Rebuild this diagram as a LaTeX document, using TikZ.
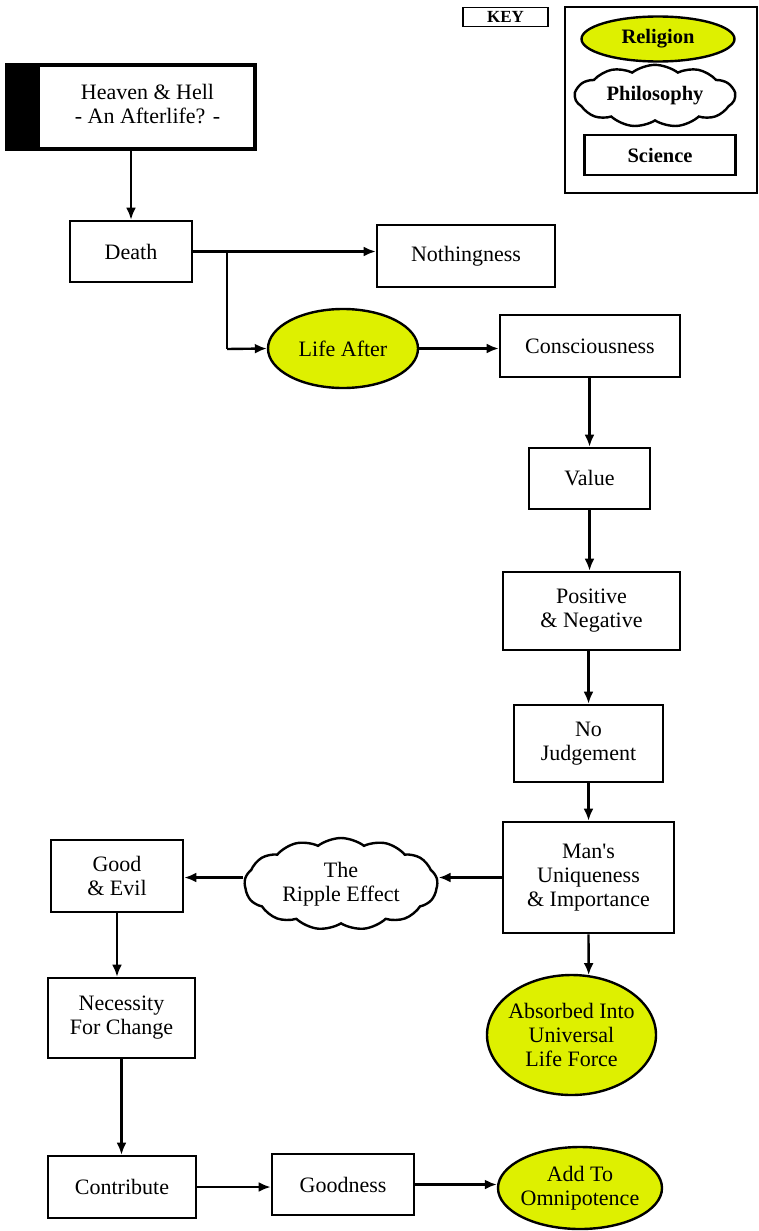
\documentclass[tikz,border=0pt]{standalone}
\usepackage{fontspec}
\setmainfont{Liberation Serif}
\usetikzlibrary{shapes.geometric,shapes.symbols,arrows.meta}
\definecolor{relyel}{RGB}{222,240,0}
\tikzset{
  box/.style={draw,line width=2.6pt,rectangle,inner sep=2pt,align=center,font=\fontsize{22}{24}\selectfont},
  rel/.style={draw,line width=2.4pt,ellipse,fill=relyel,inner sep=0pt,align=center,font=\fontsize{22}{24}\selectfont},
  phil/.style={draw,line width=2.4pt,cloud,cloud puffs=13,cloud puff arc=75,aspect=2.2,inner sep=0pt,align=center,font=\fontsize{22}{24}\selectfont},
  conn/.style={line width=2.4pt,-{Latex[length=12pt,width=10pt]}},
  keyfont/.style={font=\fontsize{20.5}{22}\selectfont\bfseries}
}
\begin{document}
\begin{tikzpicture}[x=1pt,y=-1pt]
\useasboundingbox (0,0) rectangle (758,1231);
% key
\node[draw,line width=1.4pt,minimum width=85pt,minimum height=19pt,inner sep=0pt,font=\fontsize{17}{18}\selectfont\bfseries] (keylbl) at (505.5,17) {KEY};
\node[draw,line width=1.4pt,minimum width=192pt,minimum height=186pt] (keybox) at (661,100) {};
\node[rel,minimum width=153pt,minimum height=45pt,inner sep=-4pt,keyfont] (krel) at (658,39) {Religion};
\node[phil,cloud puffs=11,minimum width=160pt,minimum height=46pt,inner sep=-7pt,keyfont] (kphil) at (655,96) {Philosophy};
\node[box,minimum width=151pt,minimum height=40pt,keyfont] (ksci) at (660,155) {Science};
% main
\node[box,line width=4pt,minimum width=248pt,minimum height=84pt,
  path picture={\fill (path picture bounding box.north west) rectangle ([xshift=33pt]path picture bounding box.south west);}]
  (heaven) at (131,107) {\hspace*{33pt}\begin{tabular}{@{}c@{}}Heaven \& Hell\\- An Afterlife? -\end{tabular}};
\node[box,minimum width=122pt,minimum height=61pt] (death) at (131,251.5) {Death};
\node[box,minimum width=178pt,minimum height=62pt] (noth) at (466,256) {Nothingness};
\node[rel,minimum width=150pt,minimum height=79pt] (life) at (343,348.5) {Life After};
\node[box,minimum width=180pt,minimum height=62pt] (cons) at (590,346) {Consciousness};
\node[box,minimum width=121pt,minimum height=61pt] (value) at (589.5,478.5) {Value};
\node[box,minimum width=177pt,minimum height=78pt] (posneg) at (591.5,611) {Positive\\\& Negative};
\node[box,minimum width=149pt,minimum height=77pt] (nojudge) at (588.5,743.5) {No\\Judgement};
\node[box,minimum width=171pt,minimum height=111pt] (mans) at (588.5,877.5) {Man\textquotesingle s\\Uniqueness\\\& Importance};
\node[phil,minimum width=193pt,minimum height=92pt,inner sep=-4pt] (ripple) at (341,884) {The\\Ripple Effect};
\node[box,minimum width=132pt,minimum height=72pt] (goodevil) at (117,876) {Good\\\& Evil};
\node[rel,minimum width=169pt,minimum height=120pt,inner sep=-8pt] (absorb) at (571.5,1035) {Absorbed Into\\Universal\\Life Force};
\node[rel,minimum width=164pt,minimum height=82pt,inner sep=-8pt] (addto) at (580,1188) {Add To\\Omnipotence};
\node[box,minimum width=147pt,minimum height=80pt] (neces) at (121.5,1018) {Necessity\\For Change};
\node[box,minimum width=148pt,minimum height=62pt] (contrib) at (122,1187) {Contribute};
\node[box,minimum width=142pt,minimum height=61pt] (goodness) at (343,1184.5) {Goodness};
% connectors
\draw[conn] (heaven.south -| death.north) -- (death.north);
\draw[conn] (death.east) -- (death.east -| noth.west);
\coordinate (br) at (227,252);
\coordinate (bend) at (227,349);
\draw[line width=2.4pt] (br) -- (bend);
\draw[conn] (bend) -- (life.west);
\draw[conn] (life.east) -- (life.east -| cons.west);
\draw[conn] (value.north |- cons.south) -- (value.north);
\draw[conn] (value.south) -- (value.south |- posneg.north);
\draw[conn] (nojudge.north |- posneg.south) -- (nojudge.north);
\draw[conn] (nojudge.south) -- (nojudge.south |- mans.north);
\draw[conn] (mans.west) -- (mans.west -| ripple.east);
\draw[conn] (ripple.west |- mans.west) -- (goodevil.east |- mans.west);
\draw[conn] (goodevil.south) -- (goodevil.south |- neces.north);
\draw[conn] (neces.south) -- (neces.south |- contrib.north);
\draw[conn] (contrib.east) -- (contrib.east -| goodness.west);
\draw[conn] (goodness.east) -- (goodness.east -| addto.west);
\draw[conn] (mans.south) -- (absorb.74);
\end{tikzpicture}
\end{document}
